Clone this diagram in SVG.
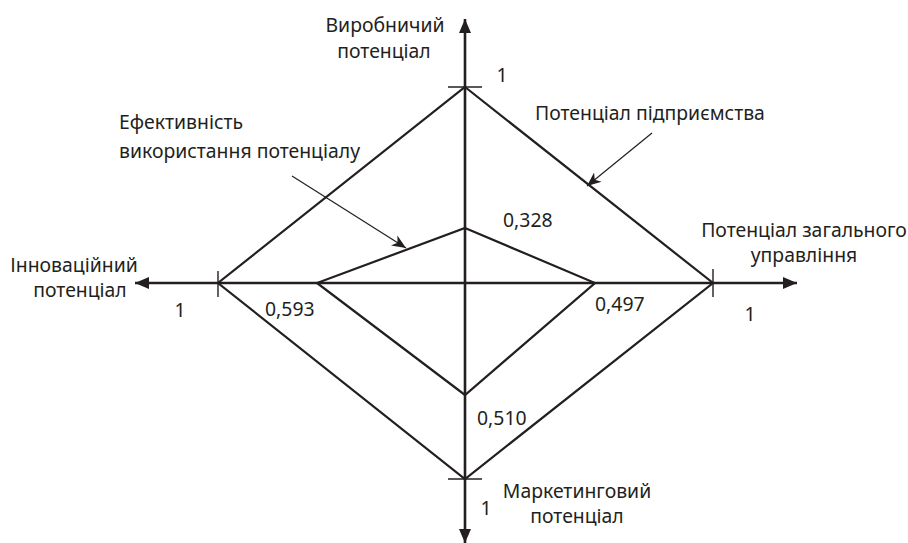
<svg xmlns="http://www.w3.org/2000/svg" width="908" height="543" viewBox="0 0 908 543">
<defs>
<style>
text{font-family:"Noto Sans","Liberation Sans",sans-serif;font-size:19.4px;fill:#231f20}
.ax{stroke:#231f20;stroke-width:2.6;fill:none}
.tk{stroke:#231f20;stroke-width:1.4;fill:none}
.dm{stroke:#231f20;stroke-width:2.2;fill:none;stroke-linejoin:miter}
.pt{stroke:#231f20;stroke-width:1.2;fill:none}
.m{text-anchor:middle}
</style>
<marker id="ah" markerUnits="userSpaceOnUse" markerWidth="16" markerHeight="14" refX="14" refY="7" orient="auto">
<path d="M0,1 L14,7 L0,13 Z" fill="#231f20"/>
</marker>
<marker id="ph" markerUnits="userSpaceOnUse" markerWidth="16" markerHeight="14" refX="14" refY="7" orient="auto">
<path d="M0,1 L14,7 L0,13 L4,7 Z" fill="#231f20"/>
</marker>
</defs>
<rect width="908" height="543" fill="#fff"/>
<g id="connectors">
<line class="ax" x1="465" y1="283" x2="465" y2="19" marker-end="url(#ah)"/>
<line class="ax" x1="465" y1="283" x2="465" y2="543" marker-end="url(#ah)"/>
<line class="ax" x1="465" y1="283" x2="135" y2="283" marker-end="url(#ah)"/>
<line class="ax" x1="465" y1="283" x2="797" y2="283" marker-end="url(#ah)"/>
<line class="tk" x1="448" y1="87" x2="482" y2="87"/>
<line class="tk" x1="448" y1="479" x2="482" y2="479"/>
<line class="tk" x1="218" y1="271" x2="218" y2="297"/>
<line class="tk" x1="713" y1="269" x2="713" y2="297"/>
<line class="pt" x1="292" y1="176" x2="406" y2="248" marker-end="url(#ph)"/>
<line class="pt" x1="652" y1="133" x2="587" y2="186" marker-end="url(#ph)"/>
</g>
<g id="outer-diamond">
<polygon class="dm" points="465,87 713,283 465,479 218,283"/>
</g>
<g id="inner-diamond">
<polygon class="dm" points="465,228 595,283 465,395 317,283"/>
</g>
<g id="label-top">
<text class="m" x="385" y="32">Виробничий</text>
<text class="m" x="384" y="58">потенціал</text>
<text class="m" x="502" y="82">1</text>
</g>
<g id="label-enterprise">
<text x="535" y="120">Потенціал підприємства</text>
</g>
<g id="label-efficiency">
<text x="119" y="129">Ефективність</text>
<text x="119" y="158">використання потенціалу</text>
</g>
<g id="label-right">
<text class="m" x="804" y="237">Потенціал загального</text>
<text class="m" x="804" y="262">управління</text>
<text class="m" x="750" y="321">1</text>
</g>
<g id="label-left">
<text class="m" x="74" y="272">Інноваційний</text>
<text class="m" x="80" y="297">потенціал</text>
<text class="m" x="180" y="317">1</text>
</g>
<g id="label-bottom">
<text class="m" x="577" y="498">Маркетинговий</text>
<text class="m" x="577" y="523">потенціал</text>
<text class="m" x="486" y="515">1</text>
</g>
<g id="values">
<text x="503" y="227">0,328</text>
<text x="265" y="316">0,593</text>
<text x="595" y="311">0,497</text>
<text x="477" y="425">0,510</text>
</g>
</svg>
